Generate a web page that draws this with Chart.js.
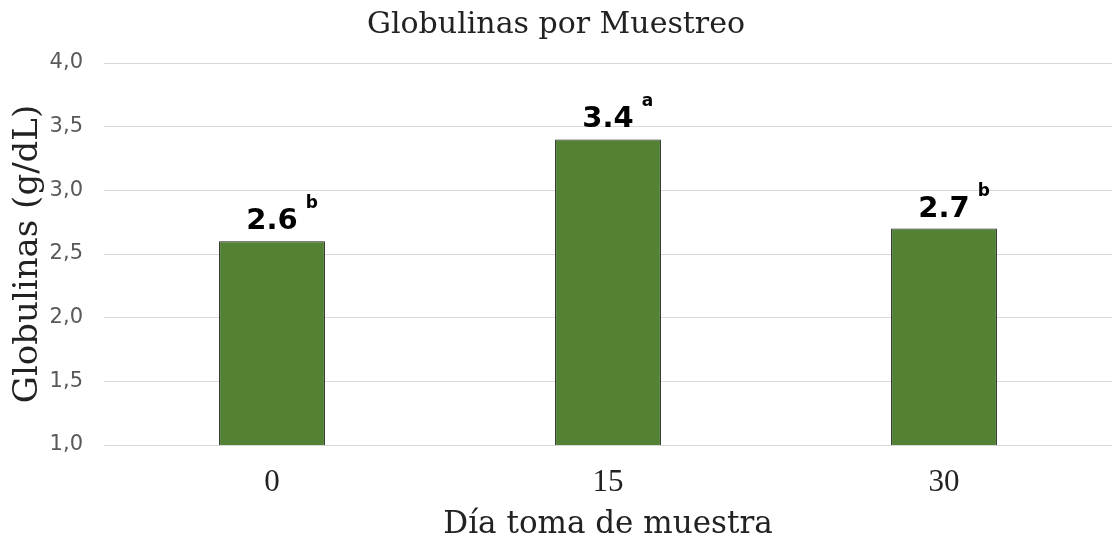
<!DOCTYPE html>
<html lang="es">
  <head>
    <meta charset="UTF-8" />
    <title>Globulinas por Muestreo</title>
    <style>
      html, body { margin: 0; padding: 0; background: #fff; overflow: hidden; }
    </style>
  </head>
  <body>
    <canvas id="c" width="1112" height="542"></canvas>
    <script src="https://cdn.jsdelivr.net/npm/chart.js"></script>
    <script>
      const dias = ['0', '15', '30'];
      const globulinas = [2.6, 3.4, 2.7];
      const letras = ['b', 'a', 'b'];

      const serif = "'DejaVu Serif', serif";
      const sans = "'DejaVu Sans', sans-serif";

      // value label plus the letter of significance above each bar
      const etiquetas = {
        id: 'etiquetas',
        afterDatasetsDraw(chart) {
          const ctx = chart.ctx;
          const meta = chart.getDatasetMeta(0);
          meta.data.forEach((bar, i) => {
            const txt = globulinas[i].toFixed(1);
            ctx.save();
            ctx.fillStyle = '#000';
            ctx.textAlign = 'center';
            ctx.textBaseline = 'alphabetic';
            ctx.font = 'bold 29px ' + sans;
            const w = ctx.measureText(txt).width;
            const base = bar.y - 12;
            ctx.fillText(txt, bar.x, base);
            ctx.font = 'bold 17px ' + sans;
            ctx.textAlign = 'left';
            ctx.fillText(letras[i], bar.x + w / 2 + 8, base - 21);
            ctx.restore();
          });
        }
      };

      new Chart(document.getElementById('c'), {
        type: 'bar',
        data: {
          labels: dias,
          datasets: [{
            data: globulinas,
            backgroundColor: '#548235',
            borderColor: '#1a1a1a',
            borderWidth: 1,
            barPercentage: 0.315,
            categoryPercentage: 1
          }]
        },
        options: {
          responsive: false,
          animation: false,
          devicePixelRatio: 1,
          layout: { padding: 0 },
          plugins: {
            legend: { display: false },
            tooltip: { enabled: false },
            title: {
              display: true,
              text: 'Globulinas por Muestreo',
              color: '#222',
              font: { family: serif, size: 30, weight: 'normal' },
              padding: { top: 7, bottom: 20 }
            }
          },
          scales: {
            x: {
              afterFit(scale) { scale.height = 97; },
              grid: { display: false, drawTicks: false },
              border: { display: false },
              ticks: {
                color: '#222',
                font: { family: "'Liberation Serif', serif", size: 31 },
                padding: 19
              },
              title: {
                display: true,
                text: 'Día toma de muestra',
                color: '#222',
                font: { family: serif, size: 31 },
                padding: { top: 0, bottom: -2 }
              }
            },
            y: {
              min: 1,
              max: 4,
              afterFit(scale) { scale.width = 104; },
              grid: { color: '#d9d9d9', lineWidth: 1, drawTicks: false },
              border: { display: false },
              ticks: {
                stepSize: 0.5,
                color: '#595959',
                font: { family: sans, size: 21 },
                padding: 21,
                callback: (v) => v.toFixed(1).replace('.', ',')
              },
              title: {
                display: true,
                text: 'Globulinas (g/dL)',
                color: '#222',
                font: { family: serif, size: 34 },
                padding: { top: 8, bottom: 0 }
              }
            }
          }
        },
        plugins: [etiquetas]
      });
    </script>
  </body>
</html>
